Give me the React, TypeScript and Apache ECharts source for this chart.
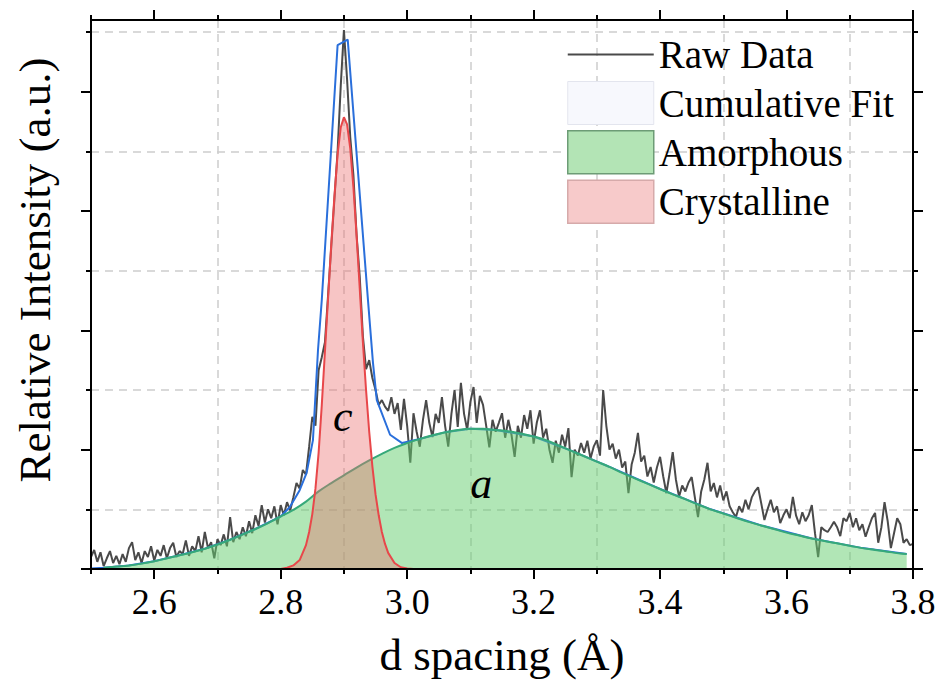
import { useEffect, useRef } from 'react';
import * as echarts from 'echarts';

const FONT = 'Liberation Serif';
const X_MIN = 2.5;
const X_MAX = 3.8;
const Y_MAX = 9.2;

const xMajorTicks = [2.6, 2.8, 3.0, 3.2, 3.4, 3.6, 3.8];
const xMinorTicks = [2.5, 2.7, 2.9, 3.1, 3.3, 3.5, 3.7];
const yMajorTicks = [0, 2, 4, 6, 8];
const yMinorTicks = [1, 3, 5, 7, 9];

const seriesNames = ['Raw Data', 'Cumulative Fit', 'Amorphous', 'Crystalline'];

// raw data: first x and sampling step, then values
const rawStart = 2.5;
const rawStep = 0.005;
const rawValues = [
  0.20, 0.32, 0.12, 0.28, 0.05, 0.18, 0.30, 0.10, 0.22, 0.08,
  0.25, 0.12, 0.35, 0.45, 0.15, 0.28, 0.10, 0.30, 0.20, 0.38,
  0.14, 0.32, 0.22, 0.40, 0.18, 0.35, 0.44, 0.20, 0.30, 0.25,
  0.48, 0.22, 0.38, 0.30, 0.55, 0.28, 0.62, 0.35, 0.45, 0.18,
  0.50, 0.40, 0.58, 0.38, 0.87, 0.45, 0.62, 0.50, 0.70, 0.55,
  0.80, 0.60, 0.90, 0.72, 1.07, 0.78, 1.00, 0.85, 1.05, 0.75,
  1.07, 0.90, 1.12, 0.98, 1.20, 1.44, 1.35, 1.66, 1.58, 2.05,
  2.55, 2.40, 3.33, 3.55, 3.80, 4.60, 5.40, 6.20, 7.00, 8.10,
  9.03, 8.20, 7.24, 6.60, 5.60, 4.90, 3.90, 3.35, 3.50, 3.20,
  3.00, 2.75, 2.83, 2.72, 2.65, 2.88, 2.60, 2.78, 2.33, 2.85,
  2.40, 1.78, 2.61, 2.30, 2.05, 2.50, 2.83, 2.45, 2.21, 2.60,
  2.45, 2.88, 2.40, 2.05, 2.60, 3.00, 2.38, 3.12, 2.60, 2.33,
  2.80, 3.05, 2.45, 2.90, 2.75, 2.40, 2.04, 2.50, 2.30, 2.45,
  2.61, 2.20, 2.50, 2.25, 1.88, 2.40, 2.20, 2.58, 2.35, 2.66,
  2.10, 2.45, 2.66, 2.20, 2.35, 2.00, 1.78, 2.15, 1.95, 2.25,
  2.05, 2.36, 1.54, 2.00, 1.90, 2.11, 1.95, 2.15, 1.85, 2.05,
  2.16, 1.90, 3.00, 2.40, 2.00, 2.10, 1.85, 2.00, 1.70, 1.80,
  1.27, 1.75, 1.95, 2.28, 1.80, 1.90, 1.55, 1.71, 1.45, 1.70,
  1.88, 1.55, 1.27, 1.60, 1.96, 1.50, 1.21, 1.40, 1.30, 1.45,
  1.54, 1.20, 0.87, 1.30, 1.50, 1.78, 1.30, 1.44, 1.20, 1.40,
  1.15, 1.30, 1.05, 0.95, 0.87, 1.05, 0.95, 1.16, 1.00, 1.20,
  1.30, 1.37, 1.10, 0.82, 1.00, 1.16, 0.95, 1.05, 0.77, 0.90,
  1.00, 0.85, 1.21, 0.90, 0.75, 0.95, 0.80, 0.90, 1.07, 0.60,
  0.20, 0.70, 0.65, 0.62, 0.70, 0.79, 0.70, 0.55, 0.85, 0.80,
  0.94, 0.70, 0.85, 0.65, 0.75, 0.54, 0.70, 0.85, 0.94, 0.44,
  0.70, 1.12, 0.80, 0.35, 0.60, 0.85, 0.75, 0.44, 0.50, 0.40,
  0.42,
];

const amorphous: number[][] = [
  [2.52, 0.02], [2.54, 0.04], [2.56, 0.06], [2.58, 0.09], [2.60, 0.13],
  [2.62, 0.18], [2.64, 0.23], [2.66, 0.28], [2.68, 0.34], [2.70, 0.41],
  [2.72, 0.49], [2.74, 0.58], [2.76, 0.67], [2.78, 0.77], [2.80, 0.88],
  [2.82, 0.99], [2.84, 1.13], [2.86, 1.30], [2.88, 1.44], [2.90, 1.57],
  [2.92, 1.70], [2.94, 1.82], [2.96, 1.93], [2.98, 2.03], [3.00, 2.11],
  [3.02, 2.18], [3.04, 2.24], [3.06, 2.29], [3.08, 2.33], [3.10, 2.35],
  [3.12, 2.35], [3.14, 2.33], [3.16, 2.31], [3.18, 2.27], [3.20, 2.22],
  [3.22, 2.16], [3.24, 2.07], [3.26, 1.98], [3.28, 1.89], [3.30, 1.80],
  [3.32, 1.71], [3.34, 1.61], [3.36, 1.52], [3.38, 1.43], [3.40, 1.34],
  [3.42, 1.25], [3.44, 1.17], [3.46, 1.08], [3.48, 1.00], [3.50, 0.93],
  [3.52, 0.86], [3.54, 0.79], [3.56, 0.73], [3.58, 0.67], [3.60, 0.61],
  [3.62, 0.56], [3.64, 0.51], [3.66, 0.47], [3.68, 0.43], [3.70, 0.39],
  [3.72, 0.35], [3.74, 0.32], [3.76, 0.29], [3.78, 0.26], [3.79, 0.25],
];

const crystalline: number[][] = [
  [2.52, 0], [2.80, 0], [2.81, 0.02], [2.82, 0.06], [2.83, 0.15],
  [2.84, 0.40], [2.845, 0.62], [2.85, 0.92], [2.855, 1.35], [2.86, 1.95],
  [2.865, 2.75], [2.87, 3.65], [2.875, 4.55], [2.88, 5.45], [2.885, 6.25],
  [2.89, 6.95], [2.895, 7.40], [2.90, 7.57], [2.905, 7.45], [2.91, 7.05],
  [2.915, 6.40], [2.92, 5.60], [2.925, 4.70], [2.93, 3.80], [2.935, 3.00],
  [2.94, 2.30], [2.945, 1.72], [2.95, 1.25], [2.955, 0.90], [2.96, 0.62],
  [2.965, 0.42], [2.97, 0.27], [2.98, 0.10], [2.99, 0.03], [3.00, 0.01],
  [3.01, 0], [3.71, 0],
];

const cumulativeFit: number[][] = [
  [2.50, 0.01], [2.52, 0.02], [2.56, 0.06], [2.60, 0.13], [2.64, 0.23],
  [2.68, 0.34], [2.72, 0.49], [2.76, 0.67], [2.80, 0.88], [2.8145, 1.04],
  [2.83, 1.32], [2.841, 1.61], [2.851, 2.16], [2.859, 3.67], [2.865, 4.51],
  [2.89, 8.78], [2.906, 8.87], [2.938, 4.51], [2.946, 3.45], [2.952, 2.83],
  [2.973, 2.25], [2.992, 2.11], [3.02, 2.18], [3.06, 2.29], [3.10, 2.35],
  [3.14, 2.33], [3.20, 2.22], [3.26, 1.98], [3.32, 1.71], [3.40, 1.34],
  [3.48, 1.00], [3.56, 0.73], [3.64, 0.51], [3.72, 0.35], [3.79, 0.25],
];

const labelC = { text: 'c', x: 2.898, y: 2.55 };
const labelA = { text: 'a', x: 3.117, y: 1.44 };

const AXIS_COLOR = '#000';
const GRID_COLOR = '#cdcdcd';
const RAW_COLOR = '#4a4a4a';

function xAxisDef(position: 'top' | 'bottom', major: boolean, main: boolean) {
  return {
    type: 'value',
    position,
    min: X_MIN,
    max: X_MAX,
    interval: 0.1,
    z: major ? 10 : 0,
    axisLine: { show: major, onZero: false, lineStyle: { color: AXIS_COLOR, width: 2 } },
    axisTick: {
      show: true,
      customValues: major ? xMajorTicks : xMinorTicks,
      length: major ? 10 : 5,
      lineStyle: { color: AXIS_COLOR, width: 2 },
    },
    axisLabel: main
      ? {
          show: true,
          customValues: xMajorTicks,
          formatter: (v: number) => v.toFixed(1),
          fontSize: 36,
          fontFamily: FONT,
          color: '#000',
          margin: 15,
        }
      : { show: false },
    splitLine: main
      ? { show: true, lineStyle: { type: [8, 6], color: GRID_COLOR, width: 1.5 } }
      : { show: false },
    name: main ? 'd spacing (Å)' : '',
    nameLocation: 'middle',
    nameGap: 63,
    nameTextStyle: { fontSize: 45, fontFamily: FONT, color: '#000' },
  };
}

function yAxisDef(position: 'left' | 'right', major: boolean, main: boolean) {
  return {
    type: 'value',
    position,
    min: 0,
    max: Y_MAX,
    interval: 1,
    z: major ? 10 : 0,
    axisLine: { show: major, onZero: false, lineStyle: { color: AXIS_COLOR, width: 2 } },
    axisTick: {
      show: true,
      customValues: major ? yMajorTicks : yMinorTicks,
      length: major ? 10 : 5,
      lineStyle: { color: AXIS_COLOR, width: 2 },
    },
    axisLabel: { show: false },
    splitLine: main
      ? { show: true, lineStyle: { type: [8, 6], color: GRID_COLOR, width: 1.5 } }
      : { show: false },
  };
}

function markLabel(l: { text: string; x: number; y: number }) {
  return {
    silent: true,
    symbol: 'circle',
    symbolSize: 0,
    itemStyle: { color: 'transparent' },
    label: {
      show: true,
      position: 'inside',
      formatter: l.text,
      fontSize: 44,
      fontStyle: 'italic',
      fontFamily: FONT,
      color: '#000',
    },
    data: [{ coord: [l.x, l.y] }],
  };
}

export default function App() {
  const ref = useRef<HTMLDivElement>(null);

  useEffect(() => {
    if (!ref.current) return;
    const chart = echarts.init(ref.current, undefined, { renderer: 'svg' });
    const rawData = rawValues.map((v, i) => [+(rawStart + i * rawStep).toFixed(3), v]);

    chart.setOption({
      animation: false,
      backgroundColor: '#fff',
      textStyle: { fontFamily: FONT },
      grid: { left: 91, right: 27, top: 20, bottom: 115, outerBoundsMode: 'none' },
      legend: {
        orient: 'vertical',
        left: 562,
        top: 28,
        itemWidth: 86,
        itemHeight: 43,
        itemGap: 5,
        selectedMode: false,
        textStyle: { fontSize: 39, fontFamily: FONT, color: '#000' },
        data: [
          {
            name: seriesNames[0],
            icon: 'path://M0,0 L0,0 Z M0,20.5 L86,20.5 L86,22.5 L0,22.5 Z M86,43 L86,43 Z',
            itemStyle: { color: RAW_COLOR, borderWidth: 0 },
          },
          { name: seriesNames[1], icon: 'rect', itemStyle: { color: '#f7f8fd', borderColor: '#e3e5ee', borderWidth: 1 } },
          { name: seriesNames[2], icon: 'rect', itemStyle: { color: '#b3e4b5', borderColor: '#6d9c76', borderWidth: 1.5 } },
          { name: seriesNames[3], icon: 'rect', itemStyle: { color: '#f7caca', borderColor: '#d6aaaa', borderWidth: 1.5 } },
        ],
      },
      xAxis: [
        xAxisDef('bottom', false, true),
        xAxisDef('bottom', true, false),
        xAxisDef('top', false, false),
        xAxisDef('top', true, false),
      ],
      yAxis: [
        yAxisDef('left', false, true),
        yAxisDef('left', true, false),
        yAxisDef('right', false, false),
        yAxisDef('right', true, false),
      ],
      graphic: [
        {
          type: 'text',
          x: 35,
          y: 270,
          rotation: Math.PI / 2,
          style: {
            text: 'Relative Intensity (a.u.)',
            fontSize: 45,
            fontFamily: FONT,
            fill: '#000',
            align: 'center',
            verticalAlign: 'middle',
          },
        },
      ],
      series: [
        {
          name: seriesNames[0],
          type: 'line',
          data: rawData,
          symbol: 'none',
          z: 2,
          color: RAW_COLOR,
          lineStyle: { color: RAW_COLOR, width: 2 },
        },
        {
          name: seriesNames[1],
          type: 'line',
          data: cumulativeFit,
          symbol: 'none',
          z: 3,
          color: '#2a6fdb',
          lineStyle: { color: '#2a6fdb', width: 2 },
        },
        {
          name: seriesNames[2],
          type: 'line',
          data: amorphous,
          symbol: 'none',
          smooth: 0.4,
          z: 4,
          color: '#36a97a',
          lineStyle: { color: '#36a97a', width: 2 },
          areaStyle: { color: 'rgba(100,205,110,0.5)', opacity: 1 },
          markPoint: markLabel(labelA),
        },
        {
          name: seriesNames[3],
          type: 'line',
          data: crystalline,
          symbol: 'none',
          z: 5,
          color: '#e8474a',
          lineStyle: { color: '#e8474a', width: 2 },
          areaStyle: { color: 'rgba(235,110,110,0.4)', opacity: 1 },
          markPoint: markLabel(labelC),
        },
      ],
    });
    return () => chart.dispose();
  }, []);

  return (
    <div
      ref={ref}
      style={{ position: 'fixed', left: 0, top: 0, width: 940, height: 684, background: '#fff' }}
    />
  );
}
